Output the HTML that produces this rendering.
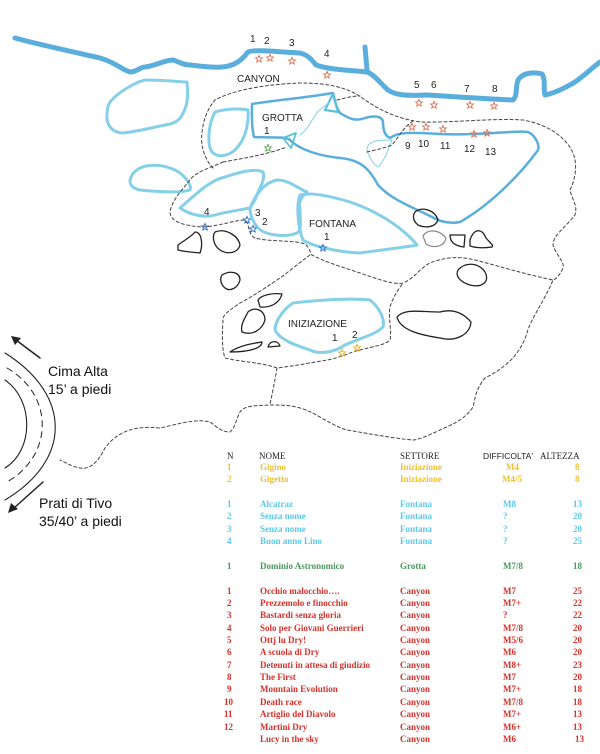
<!DOCTYPE html>
<html><head><meta charset="utf-8"><style>
body{margin:0;background:#fff;width:600px;height:754px;overflow:hidden}
svg{position:absolute;left:0;top:0}
.t{font-family:"Liberation Serif",serif;font-size:9px;font-weight:bold}
.h{font-family:"Liberation Serif",serif;font-size:9px}
.s{font-family:"Liberation Sans",sans-serif}
</style></head><body>
<svg width="600" height="754" viewBox="0 0 600 754">
<defs>
<path id="st" d="M0,-3.6 L1,-1.2 L3.4,-1.1 L1.6,0.5 L2.2,3 L0,1.6 L-2.2,3 L-1.6,0.5 L-3.4,-1.1 L-1,-1.2Z"/>
</defs>
<g fill="none" stroke-linejoin="round" stroke-linecap="round">
<!-- river -->
<path d="M15,38 C40,45 75,52 100,58 C115,62 122,70 130,72 C137,72 140,67 145,67 C155,66 165,60 173,60 C180,62 183,65 190,65 C200,66 212,68 222,67 C235,66 242,60 248,52 C255,49 280,52 300,53 C308,55 312,60 316,65 C330,70 350,70 367,72 C375,75 380,83 388,90 C395,95 405,96 427,95 C460,97 490,99 513,100 C518,95 515,88 518,80 C523,72 535,72 542,74 C546,80 543,88 545,95 C555,93 565,88 575,82 C585,75 592,68 600,62" stroke="#5aaedc" stroke-width="5"/>
<path d="M365,47 L367,70" stroke="#5aaedc" stroke-width="5"/>
<!-- light blue shapes -->
<g stroke="#85d0e8" stroke-width="3">
<path d="M110,102 C120,90 140,80 147,80 C165,80 180,82 187,82 C188,92 188,100 186,106 C182,118 178,122 170,124 C150,128 135,132 122,133 C110,132 106,122 107,115 C107,110 108,105 110,102Z"/>
<path d="M215,112 C225,109 240,108 248,110 C249,125 245,140 235,150 C228,156 218,158 212,152 C207,145 208,125 215,112Z"/>
<path d="M132,175 C140,163 160,163 175,170 C185,175 192,185 190,190 C180,193 160,192 140,190 C130,188 128,182 132,175Z"/>
<path d="M180,208 C195,195 210,180 225,177 C240,172 255,168 263,172 C266,180 258,190 255,200 C252,205 250,208 250,208 C240,210 225,212 215,215 C205,218 190,215 180,208Z"/>
<path d="M250,208 C255,195 265,182 277,180 C290,180 300,190 307,192 C303,196 298,200 300,208 C300,220 302,230 297,233 C285,238 265,235 258,228 C253,222 250,215 250,208Z"/>
<path d="M300,195 C310,192 330,196 350,202 C380,212 405,230 417,245 C400,248 380,250 360,253 C335,252 310,245 303,240 C298,228 296,205 300,195Z"/>
<path d="M293,303 C320,300 350,298 370,300 C380,308 385,320 383,327 C375,335 360,338 345,345 C335,352 320,355 310,350 C295,345 280,340 275,330 C275,320 285,308 293,303Z"/>
</g>
<!-- grotta -->
<path d="M252,104 C275,100 305,98 333,93 C335,100 336,108 340,113 C348,118 355,122 365,118 C372,116 382,115 383,122 C383,130 385,136 390,138 C398,132 410,132 440,134 C480,136 515,130 528,132 C535,135 540,145 538,150 C520,175 490,205 460,222 C450,224 440,222 430,216 C410,206 392,200 378,185 C370,170 362,160 340,158 C320,156 300,150 290,140 C285,136 270,138 254,137 C251,125 252,110 252,104Z" stroke="#5aaedc" stroke-width="2.5"/>
<path d="M325,110 L333,94 L338,112Z" stroke="#5cc0d8" stroke-width="2.2"/>
<path d="M283,138 L296,133 L291,148Z" stroke="#5cc0d8" stroke-width="1.8"/>
<path d="M300,135 C310,128 315,112 320,110 C325,106 328,103 330,102" stroke="#85d0e8" stroke-width="1"/>
<path d="M392,140 C380,140 367,140 367,150 C370,160 375,165 378,167 C385,160 388,150 392,140" stroke="#85d0e8" stroke-width="1"/>
<!-- black rocks -->
<g stroke="#222" stroke-width="1.3">
<path d="M178,245 C185,240 192,236 195,232 C202,232 203,245 200,253 C192,252 185,252 178,250Z"/>
<path d="M215,232 C225,228 238,235 240,245 C238,253 228,255 220,250 C213,245 212,236 215,232Z"/>
<path d="M415,212 C422,206 435,210 438,220 C435,228 425,228 418,225 C412,220 413,215 415,212Z"/>
<path d="M450,235 L465,235 L464,247 C455,246 450,242 450,235Z"/>
<path d="M470,240 C474,228 482,228 486,238 C490,243 494,245 492,247 C485,248 476,248 470,246Z"/>
<path d="M458,270 C465,262 478,262 485,272 C490,282 482,288 470,285 C460,282 455,276 458,270Z"/>
<path d="M222,275 C230,270 240,272 240,280 C238,288 230,292 225,288 C220,284 220,278 222,275Z"/>
<path d="M258,300 C262,294 275,293 282,294 C280,302 272,308 260,307Z"/>
<path d="M248,312 C255,306 265,310 265,320 C262,330 252,336 242,332 C240,325 245,318 248,312Z"/>
<path d="M230,352 C240,345 255,343 262,342 C262,348 250,352 230,352Z"/>
<path d="M268,347 C270,340 278,340 280,346Z"/>
<path d="M397,317 C405,308 420,312 440,312 C455,308 465,315 471,322 C470,335 455,342 440,338 C420,335 400,330 397,317Z"/>
</g>
<path d="M423,236 C428,228 440,230 446,238 C444,248 432,248 426,244Z" stroke="#888" stroke-width="1.2"/>
<!-- dashed -->
<g stroke="#444" stroke-width="1" stroke-dasharray="3,2.5">
<path d="M213,168 C205,160 200,145 202,133 C203,120 208,108 215,100 C230,92 255,85 300,83 C330,83 350,88 365,100 C380,110 395,118 420,122 C450,123 490,118 523,120 C545,124 565,135 573,153 C578,165 575,180 570,190 C572,200 578,205 575,215 C565,228 553,235 553,245 C556,255 565,262 563,268 C560,275 555,280 553,280 C545,300 530,320 527,333 C520,355 505,368 485,378 C475,390 475,400 473,407 C468,415 460,420 455,423 C440,430 420,440 413,440 C390,438 360,432 347,430 C330,425 315,412 300,408 C290,405 280,405 270,405 C255,406 245,405 240,412 C236,420 235,428 230,432 C220,432 215,425 210,422 C195,418 175,425 160,428 C140,426 120,428 105,448 C98,462 90,470 80,468 C70,466 65,462 60,460"/>
<path d="M223,162 C210,168 195,172 190,180 C182,190 172,200 170,212 C170,222 185,226 203,227 C220,226 235,220 245,220 C250,225 248,235 255,238 C270,242 295,240 305,244 C310,248 310,253 312,255 C325,262 345,268 360,273 C380,280 395,285 403,283 C415,278 420,268 430,263 C445,257 460,256 475,260 C495,265 520,273 553,280"/>
<path d="M223,162 C245,158 265,155 287,147"/>
<path d="M310,255 C300,262 285,275 277,280 C262,290 250,298 240,303 C230,310 222,315 223,320 C222,335 222,350 225,358 C240,362 260,362 277,368 C300,365 315,362 327,360 C340,358 350,352 360,350 C375,346 385,345 390,340 C392,330 388,318 390,307 C393,297 398,290 403,283"/>
<path d="M277,368 C275,380 272,395 270,404"/>
<path d="M337,100 C345,98 352,96 360,96"/>
<path d="M367,152 C375,150 385,148 392,145 C400,135 405,125 415,120"/>
</g>
<!-- road -->
<path d="M5,353 C72,395 72,460 5,500" stroke="#222" stroke-width="1.1"/>
<path d="M7,368 C54,395 54,455 7,482" stroke="#222" stroke-width="1" stroke-dasharray="6,5"/>
<path d="M5,380 C34,400 34,450 5,468" stroke="#222" stroke-width="1.1"/>
<path d="M40,358 L16,340" stroke="#222" stroke-width="1.5"/>
<path d="M43,482 L14,508" stroke="#222" stroke-width="1.5"/>
</g>
<path d="M11,336 L21,338 L15,345Z" fill="#222"/>
<path d="M8,513 L11,503 L18,509Z" fill="#222"/>
<!-- stars -->
<g fill="none" stroke-width="0.9">
<g stroke="#e07050">
<use href="#st" x="259" y="59"/><use href="#st" x="270" y="58"/><use href="#st" x="292" y="61"/><use href="#st" x="327" y="75"/>
<use href="#st" x="419" y="103"/><use href="#st" x="434" y="105"/><use href="#st" x="470" y="105"/><use href="#st" x="494" y="106"/>
<use href="#st" x="412" y="127"/><use href="#st" x="426" y="127"/><use href="#st" x="443" y="129"/><use href="#st" x="474" y="134"/><use href="#st" x="487" y="133"/>
</g>
<use href="#st" x="268" y="148" stroke="#5aa850"/>
<g stroke="#2b6cc8">
<use href="#st" x="205" y="227"/><use href="#st" x="247" y="220"/><use href="#st" x="253" y="229"/><use href="#st" x="323" y="248"/>
</g>
<g stroke="#e8b020">
<use href="#st" x="342" y="353"/><use href="#st" x="357" y="348"/>
</g>
</g>
<!-- map labels -->
<g class="s" font-size="10" fill="#222">
<text x="250" y="42">1</text><text x="264" y="44">2</text><text x="289" y="46">3</text><text x="324" y="57">4</text>
<text x="237" y="82">CANYON</text>
<text x="262" y="121">GROTTA</text><text x="264" y="134">1</text>
<text x="414" y="88">5</text><text x="431" y="88">6</text><text x="464" y="92">7</text><text x="492" y="92">8</text>
<text x="405" y="149">9</text><text x="418" y="147">10</text><text x="440" y="149">11</text><text x="464" y="152">12</text><text x="485" y="155">13</text>
<text x="204" y="215">4</text><text x="255" y="216">3</text><text x="262" y="225">2</text>
<text x="309" y="227">FONTANA</text><text x="324" y="240">1</text>
<text x="288" y="327">INIZIAZIONE</text><text x="332" y="341">1</text><text x="352" y="338">2</text>
</g>
<g class="s" font-size="14" fill="#111">
<text x="48" y="376">Cima Alta</text><text x="48" y="394">15’ a piedi</text>
<text x="39" y="508">Prati di Tivo</text><text x="39" y="526">35/40’ a piedi</text>
</g>
<!-- table -->
<g class="h" fill="#222">
<text x="227" y="459">N</text><text x="259" y="459">NOME</text><text x="400" y="459">SETTORE</text>
<text x="483" y="459" class="s" font-size="8.5">DIFFICOLTA'</text><text x="540" y="459">ALTEZZA</text>
</g>
<g class="t" fill="#f0c030">
<text x="227" y="470">1</text><text x="260" y="470">Gigino</text><text x="400" y="470">Iniziazione</text><text x="506" y="470">M4</text><text x="575" y="470">8</text>
<text x="227" y="482">2</text><text x="260" y="482">Gigetto</text><text x="400" y="482">Iniziazione</text><text x="502" y="482">M4/5</text><text x="575" y="482">8</text>
</g>
<g class="t" fill="#5cc8e8">
<text x="227" y="507">1</text><text x="260" y="507">Alcatraz</text><text x="400" y="507">Fontana</text><text x="503" y="507">M8</text><text x="573" y="507">13</text>
<text x="227" y="519">2</text><text x="260" y="519">Senza nome</text><text x="400" y="519">Fontana</text><text x="503" y="519">?</text><text x="573" y="519">20</text>
<text x="227" y="532">3</text><text x="260" y="532">Senza nome</text><text x="400" y="532">Fontana</text><text x="503" y="532">?</text><text x="573" y="532">20</text>
<text x="227" y="544">4</text><text x="260" y="544">Buon anno Lino</text><text x="400" y="544">Fontana</text><text x="503" y="544">?</text><text x="573" y="544">25</text>
</g>
<g class="t" fill="#4a9a5a">
<text x="227" y="569">1</text><text x="260" y="569">Dominio Astronomico</text><text x="400" y="569">Grotta</text><text x="503" y="569">M7/8</text><text x="573" y="569">18</text>
</g>
<g class="t" fill="#d8302a">
<text x="227" y="594">1</text><text x="260" y="594">Occhio malocchio….</text><text x="400" y="594">Canyon</text><text x="503" y="594">M7</text><text x="573" y="594">25</text>
<text x="227" y="606">2</text><text x="260" y="606">Prezzemolo e finocchio</text><text x="400" y="606">Canyon</text><text x="503" y="606">M7+</text><text x="573" y="606">22</text>
<text x="227" y="618">3</text><text x="260" y="618">Bastardi senza gloria</text><text x="400" y="618">Canyon</text><text x="503" y="618">?</text><text x="573" y="618">22</text>
<text x="227" y="631">4</text><text x="260" y="631">Solo per Giovani Guerrieri</text><text x="400" y="631">Canyon</text><text x="503" y="631">M7/8</text><text x="573" y="631">20</text>
<text x="227" y="643">5</text><text x="260" y="643">Ottj lu Dry!</text><text x="400" y="643">Canyon</text><text x="503" y="643">M5/6</text><text x="573" y="643">20</text>
<text x="227" y="655">6</text><text x="260" y="655">A scuola di Dry</text><text x="400" y="655">Canyon</text><text x="503" y="655">M6</text><text x="573" y="655">20</text>
<text x="227" y="668">7</text><text x="260" y="668">Detenuti in attesa di giudizio</text><text x="400" y="668">Canyon</text><text x="503" y="668">M8+</text><text x="573" y="668">23</text>
<text x="227" y="680">8</text><text x="260" y="680">The First</text><text x="400" y="680">Canyon</text><text x="503" y="680">M7</text><text x="573" y="680">20</text>
<text x="227" y="692">9</text><text x="260" y="692">Mountain Evolution</text><text x="400" y="692">Canyon</text><text x="503" y="692">M7+</text><text x="573" y="692">18</text>
<text x="224" y="705">10</text><text x="260" y="705">Death race</text><text x="400" y="705">Canyon</text><text x="503" y="705">M7/8</text><text x="573" y="705">18</text>
<text x="224" y="717">11</text><text x="260" y="717">Artiglio del Diavolo</text><text x="400" y="717">Canyon</text><text x="503" y="717">M7+</text><text x="573" y="717">13</text>
<text x="224" y="730">12</text><text x="260" y="730">Martini Dry</text><text x="400" y="730">Canyon</text><text x="503" y="730">M6+</text><text x="573" y="730">13</text>
<text x="260" y="742">Lucy in the sky</text><text x="400" y="742">Canyon</text><text x="503" y="742">M6</text><text x="575" y="742">13</text>
</g>
</svg>
</body></html>
